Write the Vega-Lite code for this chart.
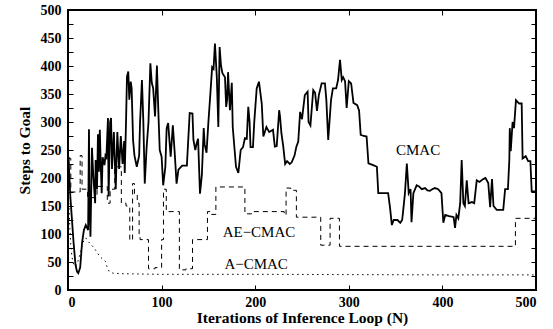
{
  "$schema": "https://vega.github.io/schema/vega-lite/v6.json",
  "width": 468,
  "height": 280,
  "autosize": {"type": "none"},
  "padding": {"left": 68, "top": 10, "right": 17, "bottom": 39},
  "background": "white",
  "config": {
    "view": {"stroke": "black", "strokeWidth": 2},
    "axis": {
      "domain": false,
      "grid": false,
      "ticks": true,
      "tickSize": -5,
      "tickColor": "black",
      "tickWidth": 1,
      "labelFont": "Liberation Serif",
      "labelFontWeight": "bold",
      "labelFontSize": 14,
      "labelColor": "black",
      "titleFont": "Liberation Serif",
      "titleFontWeight": "bold",
      "titleFontSize": 15.5,
      "titleColor": "black"
    }
  },
  "datasets": {
    "cmac": [
      {"N": 0, "v": 200}, {"N": 0.7, "v": 238}, {"N": 1, "v": 220}, {"N": 2.5, "v": 167}, {"N": 4, "v": 131},
      {"N": 6, "v": 84}, {"N": 8, "v": 45}, {"N": 9.6, "v": 33}, {"N": 11, "v": 30}, {"N": 13, "v": 40},
      {"N": 15, "v": 84}, {"N": 17, "v": 107}, {"N": 19, "v": 116}, {"N": 21.5, "v": 107}, {"N": 22.4, "v": 287},
      {"N": 23, "v": 150}, {"N": 24, "v": 95}, {"N": 25.6, "v": 254}, {"N": 27, "v": 205}, {"N": 29, "v": 155},
      {"N": 29.5, "v": 232}, {"N": 31, "v": 180}, {"N": 32, "v": 278}, {"N": 33, "v": 211}, {"N": 34, "v": 286},
      {"N": 35, "v": 223}, {"N": 36, "v": 173}, {"N": 37, "v": 237}, {"N": 39, "v": 223}, {"N": 40, "v": 240},
      {"N": 41, "v": 237}, {"N": 42.7, "v": 307}, {"N": 43.4, "v": 167}, {"N": 45, "v": 300}, {"N": 46, "v": 307},
      {"N": 47, "v": 216}, {"N": 49, "v": 282}, {"N": 51, "v": 180}, {"N": 52.7, "v": 282}, {"N": 54.6, "v": 216},
      {"N": 56.4, "v": 275}, {"N": 58.3, "v": 225}, {"N": 60, "v": 266}, {"N": 60.6, "v": 209}, {"N": 62, "v": 300},
      {"N": 63, "v": 381}, {"N": 64.4, "v": 390}, {"N": 65.5, "v": 340}, {"N": 67, "v": 372}, {"N": 68, "v": 360},
      {"N": 69.5, "v": 268}, {"N": 71, "v": 240}, {"N": 73.5, "v": 220}, {"N": 76, "v": 240}, {"N": 77, "v": 300},
      {"N": 79, "v": 375}, {"N": 80.5, "v": 300}, {"N": 82, "v": 190}, {"N": 84, "v": 255}, {"N": 86, "v": 300},
      {"N": 88, "v": 405}, {"N": 89.5, "v": 370}, {"N": 91, "v": 360}, {"N": 93, "v": 310}, {"N": 95, "v": 401},
      {"N": 96.5, "v": 320}, {"N": 98, "v": 250}, {"N": 100, "v": 238}, {"N": 101.7, "v": 187}, {"N": 104, "v": 220},
      {"N": 105.4, "v": 289}, {"N": 107, "v": 298}, {"N": 109.7, "v": 238}, {"N": 112, "v": 294}, {"N": 114, "v": 245},
      {"N": 116, "v": 190}, {"N": 118, "v": 215}, {"N": 122, "v": 222}, {"N": 127, "v": 222}, {"N": 130, "v": 316},
      {"N": 133, "v": 315}, {"N": 134, "v": 268}, {"N": 136, "v": 250}, {"N": 137.5, "v": 262}, {"N": 139, "v": 270},
      {"N": 140, "v": 220}, {"N": 141, "v": 172}, {"N": 143, "v": 205}, {"N": 145, "v": 289}, {"N": 146, "v": 260},
      {"N": 148, "v": 245}, {"N": 150, "v": 300}, {"N": 152, "v": 348}, {"N": 154, "v": 398}, {"N": 155.5, "v": 395},
      {"N": 157, "v": 440}, {"N": 159, "v": 380}, {"N": 160.6, "v": 291}, {"N": 162, "v": 434}, {"N": 163.5, "v": 400},
      {"N": 165, "v": 387}, {"N": 167.7, "v": 380}, {"N": 169, "v": 327}, {"N": 170, "v": 340}, {"N": 171, "v": 389},
      {"N": 173, "v": 321}, {"N": 175, "v": 370}, {"N": 176, "v": 291}, {"N": 178, "v": 250}, {"N": 179.5, "v": 220},
      {"N": 182, "v": 209}, {"N": 184.5, "v": 250}, {"N": 187, "v": 255}, {"N": 189, "v": 271}, {"N": 191, "v": 270},
      {"N": 192.6, "v": 327}, {"N": 194, "v": 300}, {"N": 195, "v": 255}, {"N": 197.6, "v": 255}, {"N": 199, "v": 300},
      {"N": 201.6, "v": 360}, {"N": 204, "v": 372}, {"N": 207, "v": 333}, {"N": 208.7, "v": 274}, {"N": 212, "v": 291},
      {"N": 215, "v": 282}, {"N": 219, "v": 286}, {"N": 221, "v": 256}, {"N": 223, "v": 257}, {"N": 225.6, "v": 321},
      {"N": 226.5, "v": 310}, {"N": 228, "v": 280}, {"N": 230, "v": 256}, {"N": 232, "v": 225}, {"N": 234, "v": 230},
      {"N": 237, "v": 225}, {"N": 239, "v": 228}, {"N": 242, "v": 240}, {"N": 244, "v": 256}, {"N": 246, "v": 265},
      {"N": 248, "v": 318}, {"N": 250, "v": 305}, {"N": 253, "v": 348}, {"N": 256, "v": 354}, {"N": 257, "v": 300},
      {"N": 259, "v": 294}, {"N": 262, "v": 357}, {"N": 264, "v": 352}, {"N": 266, "v": 320}, {"N": 268, "v": 348},
      {"N": 271, "v": 369}, {"N": 274.5, "v": 369}, {"N": 276, "v": 340}, {"N": 278, "v": 268}, {"N": 281, "v": 339},
      {"N": 283, "v": 360}, {"N": 286.5, "v": 360}, {"N": 288.5, "v": 375}, {"N": 290.6, "v": 411}, {"N": 292.5, "v": 375},
      {"N": 294, "v": 380}, {"N": 296, "v": 373}, {"N": 297.7, "v": 325}, {"N": 300, "v": 373}, {"N": 302.5, "v": 369},
      {"N": 305, "v": 334}, {"N": 309, "v": 330}, {"N": 311, "v": 320}, {"N": 312.7, "v": 277}, {"N": 316, "v": 275},
      {"N": 319, "v": 274}, {"N": 321, "v": 226}, {"N": 326, "v": 223}, {"N": 330, "v": 220}, {"N": 331.5, "v": 173},
      {"N": 342, "v": 173}, {"N": 344, "v": 148}, {"N": 346, "v": 116}, {"N": 348, "v": 125}, {"N": 352, "v": 125},
      {"N": 355, "v": 120}, {"N": 357, "v": 125}, {"N": 358, "v": 140}, {"N": 360, "v": 173}, {"N": 362, "v": 226},
      {"N": 364, "v": 173}, {"N": 366, "v": 180}, {"N": 367, "v": 121}, {"N": 369, "v": 173}, {"N": 372.5, "v": 187},
      {"N": 375, "v": 185}, {"N": 378, "v": 180}, {"N": 381.5, "v": 182}, {"N": 384, "v": 178}, {"N": 386.7, "v": 177},
      {"N": 389, "v": 180}, {"N": 392, "v": 182}, {"N": 395.5, "v": 180}, {"N": 399, "v": 173}, {"N": 401, "v": 120},
      {"N": 403, "v": 134}, {"N": 407, "v": 132}, {"N": 410, "v": 131}, {"N": 412, "v": 130}, {"N": 413.5, "v": 111},
      {"N": 415, "v": 134}, {"N": 417, "v": 128}, {"N": 419, "v": 155}, {"N": 420.6, "v": 232}, {"N": 422.4, "v": 155},
      {"N": 424, "v": 150}, {"N": 426, "v": 196}, {"N": 428, "v": 155}, {"N": 431.6, "v": 157}, {"N": 434, "v": 155},
      {"N": 436.7, "v": 196}, {"N": 439.5, "v": 193}, {"N": 443.7, "v": 198}, {"N": 446, "v": 200}, {"N": 449, "v": 191},
      {"N": 451, "v": 148}, {"N": 453, "v": 198}, {"N": 454.6, "v": 150}, {"N": 458, "v": 143}, {"N": 465, "v": 143},
      {"N": 467, "v": 180}, {"N": 470, "v": 180}, {"N": 471.5, "v": 232}, {"N": 472, "v": 289}, {"N": 473, "v": 248},
      {"N": 475, "v": 300}, {"N": 476.5, "v": 289}, {"N": 478.6, "v": 339}, {"N": 482, "v": 333}, {"N": 484.7, "v": 333},
      {"N": 485.7, "v": 235}, {"N": 489, "v": 239}, {"N": 491.6, "v": 230}, {"N": 494, "v": 230}, {"N": 495.4, "v": 176},
      {"N": 500, "v": 176}
    ],
    "ae": [
      {"N": 0, "v": 235}, {"N": 3, "v": 175}, {"N": 13, "v": 240}, {"N": 15, "v": 180}, {"N": 21, "v": 165},
      {"N": 31, "v": 185}, {"N": 42, "v": 155}, {"N": 45, "v": 180}, {"N": 50, "v": 220}, {"N": 57, "v": 155},
      {"N": 62, "v": 150}, {"N": 66, "v": 89}, {"N": 69, "v": 190}, {"N": 71, "v": 170}, {"N": 74, "v": 155},
      {"N": 76, "v": 100}, {"N": 77, "v": 90}, {"N": 86, "v": 38}, {"N": 93, "v": 40}, {"N": 100, "v": 90},
      {"N": 102, "v": 180}, {"N": 105, "v": 140}, {"N": 119, "v": 36}, {"N": 126, "v": 38}, {"N": 133, "v": 90},
      {"N": 149, "v": 140}, {"N": 152, "v": 135}, {"N": 158, "v": 184}, {"N": 189, "v": 136}, {"N": 196, "v": 140},
      {"N": 231, "v": 134}, {"N": 233, "v": 182}, {"N": 238, "v": 178}, {"N": 244, "v": 130}, {"N": 270, "v": 80},
      {"N": 280, "v": 128}, {"N": 290, "v": 78}, {"N": 478, "v": 128}, {"N": 500, "v": 128}
    ],
    "acmac": [
      {"N": 0, "v": 200}, {"N": 1, "v": 150}, {"N": 2, "v": 110}, {"N": 3, "v": 80}, {"N": 4, "v": 62},
      {"N": 5, "v": 52}, {"N": 6, "v": 46}, {"N": 8, "v": 42}, {"N": 10, "v": 48}, {"N": 13, "v": 65},
      {"N": 16, "v": 85}, {"N": 19, "v": 93}, {"N": 21, "v": 88}, {"N": 24, "v": 82}, {"N": 28, "v": 75},
      {"N": 31, "v": 67}, {"N": 34, "v": 60}, {"N": 37, "v": 55}, {"N": 40, "v": 51}, {"N": 42, "v": 40},
      {"N": 44, "v": 33}, {"N": 48, "v": 30}, {"N": 60, "v": 29}, {"N": 100, "v": 28}, {"N": 200, "v": 28},
      {"N": 300, "v": 27.5}, {"N": 400, "v": 27}, {"N": 500, "v": 27}
    ],
    "labels": [
      {"N": 374, "v": 250, "t": "CMAC"},
      {"N": 204, "v": 103, "t": "AE−CMAC"},
      {"N": 201, "v": 46, "t": "A−CMAC"}
    ]
  },
  "resolve": {"axis": {"x": "independent", "y": "independent"}},
  "layer": [
    {
      "data": {"name": "cmac"},
      "mark": {"type": "line", "color": "black", "strokeWidth": 1.8, "clip": true},
      "encoding": {
        "x": {"field": "N", "type": "quantitative",
              "scale": {"domain": [0, 500], "nice": false, "zero": false},
              "axis": {"orient": "bottom", "values": [0, 100, 200, 300, 400, 500], "title": "Iterations of Inference Loop (N)", "labelPadding": 10, "titlePadding": 1}},
        "y": {"field": "v", "type": "quantitative",
              "scale": {"domain": [0, 500], "nice": false},
              "axis": {"orient": "left", "values": [0,25,50,75,100,125,150,175,200,225,250,275,300,325,350,375,400,425,450,475,500], "title": "Steps to Goal", "labelPadding": 12, "titlePadding": 8}}
      }
    },
    {
      "data": {"name": "ae"},
      "mark": {"type": "line", "color": "black", "strokeWidth": 1, "strokeDash": [5, 4], "interpolate": "step-after", "clip": true},
      "encoding": {
        "x": {"field": "N", "type": "quantitative",
              "axis": {"orient": "top", "values": [0, 100, 200, 300, 400, 500], "labels": false, "title": null}},
        "y": {"field": "v", "type": "quantitative",
              "axis": {"orient": "right", "values": [0,25,50,75,100,125,150,175,200,225,250,275,300,325,350,375,400,425,450,475,500], "labels": false, "title": null}}
      }
    },
    {
      "data": {"name": "acmac"},
      "mark": {"type": "line", "color": "black", "strokeWidth": 1, "strokeDash": [1.5, 3.5], "clip": true},
      "encoding": {
        "x": {"field": "N", "type": "quantitative", "axis": null},
        "y": {"field": "v", "type": "quantitative", "axis": null}
      }
    },
    {
      "data": {"name": "labels"},
      "mark": {"type": "text", "font": "Liberation Serif", "fontSize": 15, "color": "black", "align": "center", "baseline": "middle"},
      "encoding": {
        "x": {"field": "N", "type": "quantitative", "axis": null},
        "y": {"field": "v", "type": "quantitative", "axis": null},
        "text": {"field": "t"}
      }
    }
  ]
}
